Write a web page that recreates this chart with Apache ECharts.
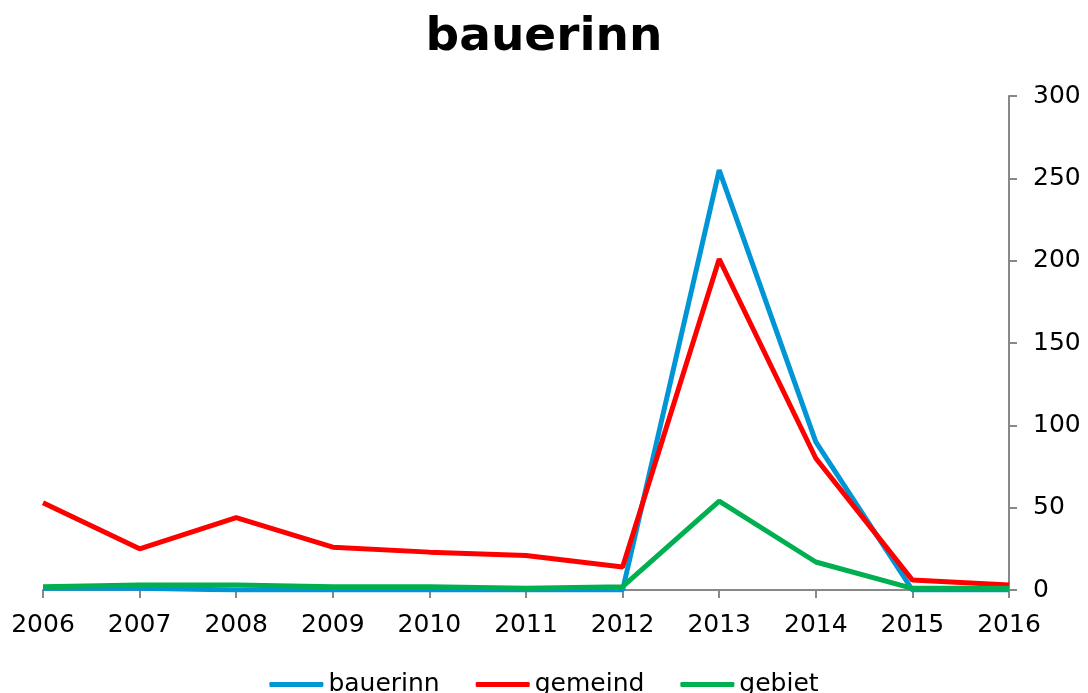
<!DOCTYPE html>
<html>
<head>
<meta charset="utf-8">
<script src="https://cdn.jsdelivr.net/npm/echarts@6/dist/echarts.min.js"></script>
<style>
    html, body { margin: 0; padding: 0; background: #fff; }
    #chart { width: 1088px; height: 693px; }
</style>
</head>
<body>
<div id="chart"></div>
<script>
    var years = ['2006','2007','2008','2009','2010','2011','2012','2013','2014','2015','2016'];
    var bauerinn = [1, 1, 0, 0, 0, 0, 0, 255, 90, 0, 0];
    var gemeind = [53, 25, 44, 26, 23, 21, 14, 201, 80, 6, 3];
    var gebiet = [2, 3, 3, 2, 2, 1, 2, 54, 17, 1, 1];
    var seriesNames = ['bauerinn', 'gemeind', 'gebiet'];
    var colors = ['#0096D6', '#FF0000', '#00B050'];

    var myChart = echarts.init(document.getElementById('chart'));
    var font = 'DejaVu Sans, Verdana, sans-serif';

    function line(name, data, color) {
        return {
            name: name,
            type: 'line',
            data: data,
            symbol: 'none',
            lineStyle: { color: color, width: 5 },
            itemStyle: { color: color },
            animation: false
        };
    }

    var option = {
        color: colors,
        animation: false,
        title: {
            text: 'bauerinn',
            left: 'center',
            top: 9,
            textStyle: { fontFamily: font, fontSize: 47, fontWeight: 'bold', color: '#000' }
        },
        grid: { left: 43, right: 79, top: 96, bottom: 103 },
        legend: {
            data: seriesNames,
            bottom: -9,
            left: 'center',
            icon: 'roundRect',
            itemWidth: 54,
            itemHeight: 5,
            itemGap: 36,
            textStyle: { fontFamily: font, fontSize: 25, color: '#000' }
        },
        xAxis: {
            type: 'category',
            boundaryGap: false,
            data: years,
            axisLine: { lineStyle: { color: '#888', width: 2 } },
            axisTick: { show: true, length: 8, lineStyle: { color: '#888', width: 2 } },
            axisLabel: { fontFamily: font, fontSize: 25, color: '#000', margin: 23 }
        },
        yAxis: {
            type: 'value',
            position: 'right',
            min: 0,
            max: 300,
            interval: 50,
            axisLine: { show: true, lineStyle: { color: '#888', width: 2 } },
            axisTick: { show: true, length: 8, lineStyle: { color: '#888', width: 2 } },
            axisLabel: { fontFamily: font, fontSize: 25, color: '#000', margin: 24 },
            splitLine: { show: false }
        },
        series: [
            line(seriesNames[0], bauerinn, colors[0]),
            line(seriesNames[1], gemeind, colors[1]),
            line(seriesNames[2], gebiet, colors[2])
        ]
    };
    myChart.setOption(option);
</script>
</body>
</html>
